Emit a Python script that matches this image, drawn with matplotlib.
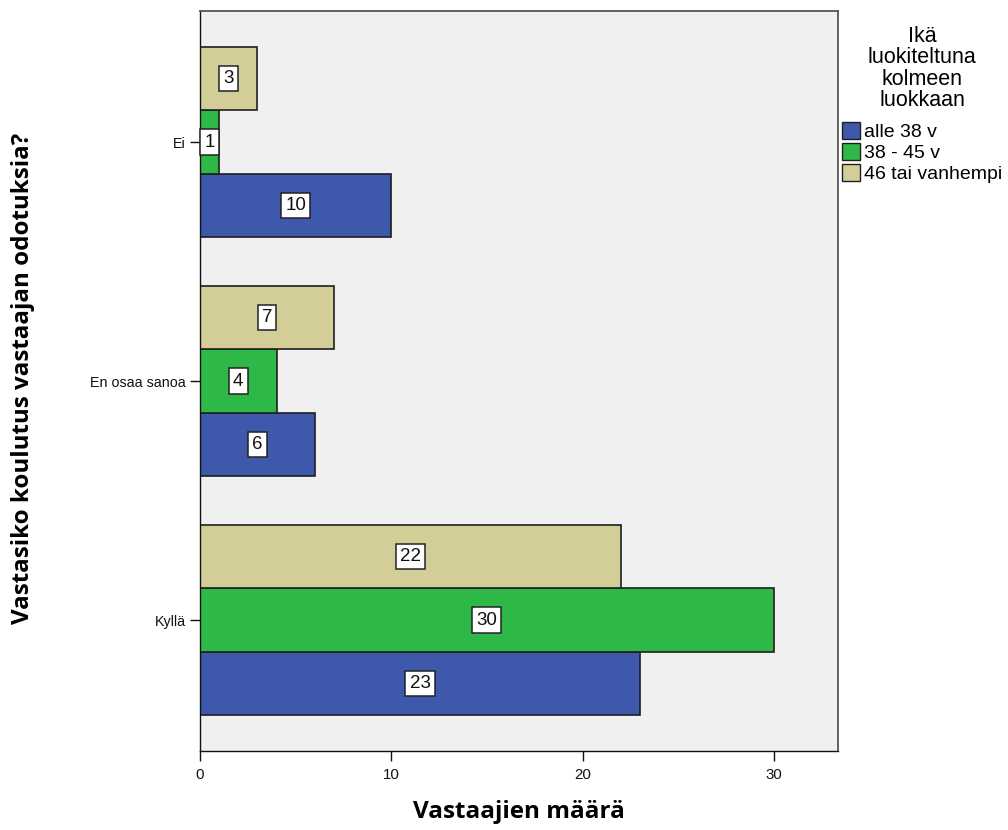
import matplotlib
matplotlib.use("Agg")
import matplotlib.pyplot as plt
from matplotlib.patches import Patch

# Response categories (bottom to top) and counts per age class
categories = ["Kyllä", "En osaa sanoa", "Ei"]
series_names = ["alle 38 v", "38 - 45 v", "46 tai vanhempi"]
counts_alle38 = [23, 6, 10]
counts_38_45 = [30, 4, 1]
counts_46plus = [22, 7, 3]
x_ticks = [0, 10, 20, 30]

colors = ["#3E58AC", "#2EB848", "#D3CE97"]
series = [counts_alle38, counts_38_45, counts_46plus]

fig = plt.figure(figsize=(10.08, 8.30), dpi=100)
ax = fig.add_axes([0.1984, 0.0952, 0.8313 - 0.1984, 0.9867 - 0.0952])
ax.set_facecolor("#F0F0F0")

bar_h = 0.265
offsets = [-bar_h, 0.0, bar_h]
positions = list(range(len(categories)))

for vals, col, off, name in zip(series, colors, offsets, series_names):
    ypos = [p + off for p in positions]
    ax.barh(ypos, vals, height=bar_h, color=col, edgecolor="#1f1f1f",
            linewidth=1.2, label=name, zorder=2)
    for y, v in zip(ypos, vals):
        ax.text(v / 2, y, str(v), ha="center", va="center", fontsize=13.5,
                family="Liberation Sans", color="#111111", zorder=3,
                bbox=dict(boxstyle="square,pad=0.22", facecolor="white",
                          edgecolor="#222222", linewidth=1.1))

ax.set_xlim(0, 33.35)
ax.set_ylim(-0.548, 2.548)
ax.set_xticks(x_ticks)
ax.set_yticks(positions)
ax.set_yticklabels(categories)
ax.tick_params(axis="both", direction="out", length=7, width=1.0,
               labelsize=10.3, colors="#111111", pad=3)
ax.tick_params(axis="x", pad=5, labelsize=10.8)
for lab in ax.get_xticklabels() + ax.get_yticklabels():
    lab.set_family("Liberation Sans")

for side in ["left", "bottom"]:
    ax.spines[side].set_color("#111111")
    ax.spines[side].set_linewidth(1.0)
for side in ["top", "right"]:
    ax.spines[side].set_color("#555555")
    ax.spines[side].set_linewidth(1.3)

ax.set_xlabel("Vastaajien määrä", fontsize=17.5, fontweight="bold",
              family="Open Sans", va="center")
ax.xaxis.set_label_coords(0.5, (751 - 812) / 740)
ax.set_ylabel("Vastasiko koulutus vastaajan odotuksia?", fontsize=17.4,
              fontweight="bold", family="Open Sans", va="center")
ax.yaxis.set_label_coords((23 - 200) / 638, (751 - 378) / 740)

handles = [Patch(facecolor=c, edgecolor="#1f1f1f", linewidth=1.0) for c in colors]
leg = fig.legend(handles, series_names, loc="upper left",
                 bbox_to_anchor=(842 / 1008, 1 - 26 / 830), frameon=False,
                 title="Ikä\nluokiteltuna\nkolmeen\nluokkaan",
                 prop={"family": "Liberation Sans", "size": 14},
                 title_fontproperties={"family": "Liberation Sans", "size": 15.5},
                 handlelength=0.95, handleheight=1.0, handletextpad=0.2,
                 labelspacing=0.08, borderaxespad=0, borderpad=0.0)
leg.get_title().set_multialignment("center")
leg.get_title().set_linespacing(1.02)
leg._legend_box.sep = 8

fig.savefig("out.png", dpi=100, facecolor="white")
